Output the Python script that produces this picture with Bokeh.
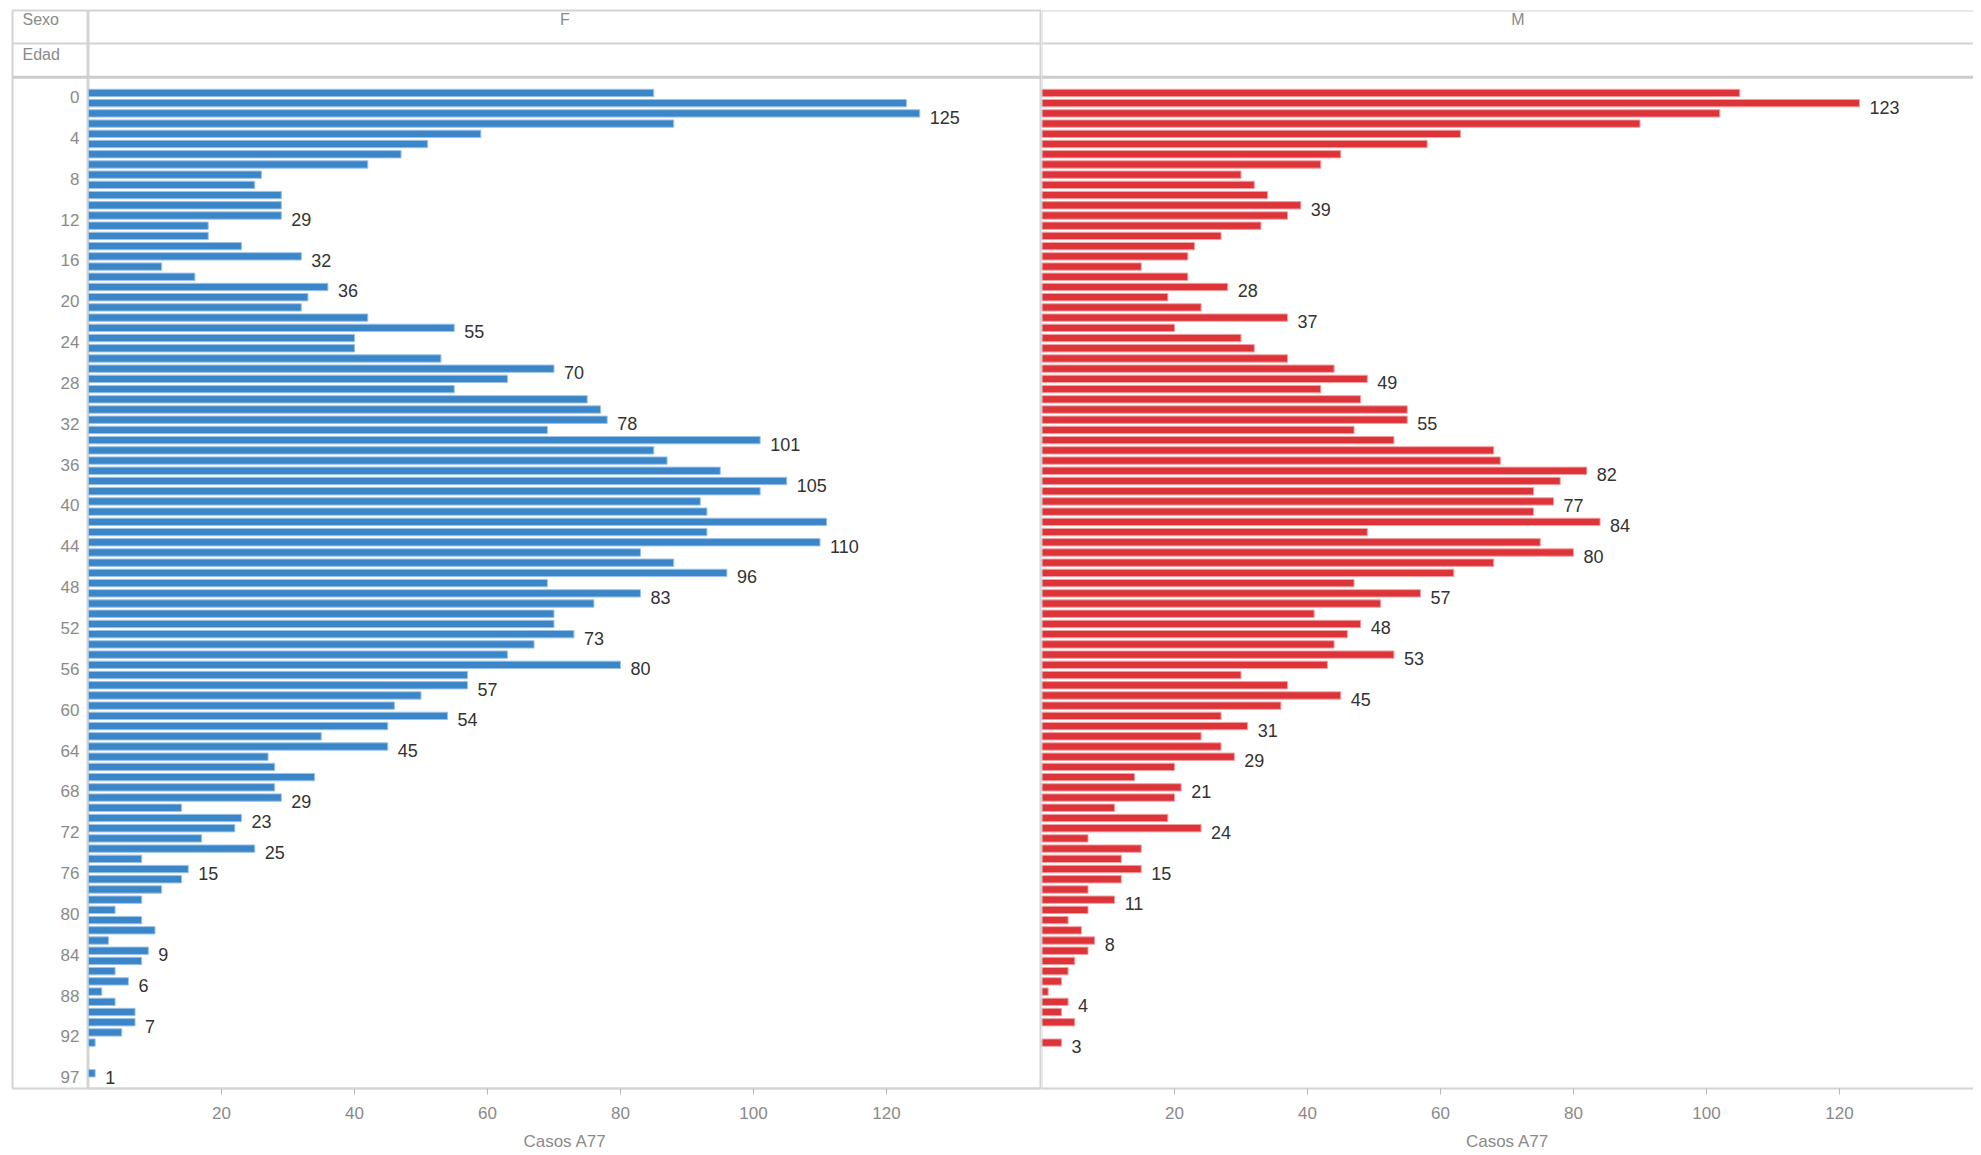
from bokeh.plotting import figure
from bokeh.layouts import row
from bokeh.models import Range1d, Span, FixedTicker, ColumnDataSource
from bokeh.core.properties import value
from bokeh.embed import file_html
from bokeh.resources import INLINE

# ---------------- data ----------------
ages = list(range(0, 96)) + [97]
f_cases = [85, 123, 125, 88, 59, 51, 47, 42, 26, 25,
           29, 29, 29, 18, 18, 23, 32, 11, 16, 36,
           33, 32, 42, 55, 40, 40, 53, 70, 63, 55,
           75, 77, 78, 69, 101, 85, 87, 95, 105, 101,
           92, 93, 111, 93, 110, 83, 88, 96, 69, 83,
           76, 70, 70, 73, 67, 63, 80, 57, 57, 50,
           46, 54, 45, 35, 45, 27, 28, 34, 28, 29,
           14, 23, 22, 17, 25, 8, 15, 14, 11, 8,
           4, 8, 10, 3, 9, 8, 4, 6, 2, 4,
           7, 7, 5, 1, None, None, 1]
m_cases = [105, 123, 102, 90, 63, 58, 45, 42, 30, 32,
           34, 39, 37, 33, 27, 23, 22, 15, 22, 28,
           19, 24, 37, 20, 30, 32, 37, 44, 49, 42,
           48, 55, 55, 47, 53, 68, 69, 82, 78, 74,
           77, 74, 84, 49, 75, 80, 68, 62, 47, 57,
           51, 41, 48, 46, 44, 53, 43, 30, 37, 45,
           36, 27, 31, 24, 27, 29, 20, 14, 21, 20,
           11, 19, 24, 7, 15, 12, 15, 12, 7, 11,
           7, 4, 6, 8, 7, 5, 4, 3, 1, 4,
           3, 5, None, 3, None, None, None]
f_labeled_ages = [2, 12, 16, 19, 23, 27, 32, 34, 38, 44, 47, 49, 53, 56,
                  58, 61, 64, 69, 71, 74, 76, 84, 87, 91, 97]
m_labeled_ages = [1, 11, 19, 22, 28, 32, 37, 40, 42, 45, 49, 52, 55, 59,
                  62, 65, 68, 72, 76, 79, 83, 89, 93]
age_tick_labels = list(range(0, 93, 4)) + [97]
x_ticks = [20, 40, 60, 80, 100, 120]
panels = ["F", "M"]
col_header = "Sexo"
row_header = "Edad"
x_title = "Casos A77"

# ---------------- styling / geometry ----------------
FONT = "Liberation Sans"
GRID = "#d4d4d4"
GREY_TXT = "#8a8a8a"
LBL_TXT = "#333333"
BAR_FILL = {"F": "#3a86c8", "M": "#dc3439"}
BAR_LINE = {"F": "#9cc3e6", "M": "#f2a0a2"}

ROW_PX = 10.24
ROW0_PX = 92.7          # canvas y of first row
FRAME_TOP = 10
FRAME_BOT = 1091
PX_PER_UNIT = 6.65
H_CANVAS = 1153
BORDER_TOP = FRAME_TOP
BORDER_BOT = H_CANVAS - FRAME_BOT
PANEL_W = 953


def to_row(py):
    return (py - ROW0_PX) / ROW_PX


y_range = Range1d(to_row(FRAME_BOT), to_row(FRAME_TOP))
line_sexo = to_row(43)
line_edad = to_row(77)
txt_sexo = to_row(19)
txt_edad = to_row(54)

row_index = {a: i for i, a in enumerate(ages)}


def base_fig(width, x_range, left=0):
    p = figure(width=width, height=H_CANVAS, x_range=x_range, y_range=y_range,
               output_backend="svg", toolbar_location=None,
               min_border_left=left, min_border_right=0,
               min_border_top=BORDER_TOP, min_border_bottom=BORDER_BOT,
               y_axis_location=None, background_fill_color="white",
               border_fill_color="white")
    p.grid.visible = False
    p.add_layout(Span(location=line_sexo, dimension="width", line_color=GRID, line_width=2))
    p.add_layout(Span(location=line_edad, dimension="width", line_color="#cccccc", line_width=3))
    return p


# ---------------- left header column ----------------
hx = Range1d(12, 88)
ph = base_fig(88, hx, left=12)
ph.xaxis.visible = False
ph.outline_line_color = GRID
ph.outline_line_width = 2
tick_rows = [row_index[a] for a in age_tick_labels]
ph.text(x=[79] * len(tick_rows), y=tick_rows, text=[str(a) for a in age_tick_labels],
        text_align="right", text_baseline="middle", y_offset=4,
        text_font=value(FONT), text_font_size="17px", text_color=GREY_TXT)
ph.text(x=[22, 22], y=[txt_sexo, txt_edad], text=[col_header, row_header],
        text_align="left", text_baseline="middle",
        text_font=value(FONT), text_font_size="16px", text_color=GREY_TXT)

# ---------------- panels ----------------
figs = [ph]
widths = {"F": PANEL_W, "M": 932}
series = {"F": (f_cases, f_labeled_ages), "M": (m_cases, m_labeled_ages)}
header_x = PANEL_W / PX_PER_UNIT / 2
for name in panels:
    w = widths[name]
    xr = Range1d(0, w / PX_PER_UNIT)
    p = base_fig(w, xr)
    cases, labeled = series[name]
    rows_ = [row_index[a] for a, c in zip(ages, cases) if c is not None]
    vals = [c for c in cases if c is not None]
    src = ColumnDataSource(dict(y=rows_, right=vals))
    p.hbar(y="y", right="right", left=0, height=0.72, source=src,
           fill_color=BAR_FILL[name], line_color=BAR_LINE[name], line_width=1)
    lab_rows = [row_index[a] for a in labeled]
    lab_vals = [cases[row_index[a]] for a in labeled]
    p.text(x=lab_vals, y=lab_rows, text=[str(v) for v in lab_vals],
           x_offset=10, y_offset=4, text_align="left", text_baseline="middle",
           text_font=value(FONT), text_font_size="18px", text_color=LBL_TXT)
    # panel header
    p.text(x=[header_x], y=[txt_sexo], text=[name], text_align="center",
           text_baseline="middle", text_font=value(FONT), text_font_size="16px",
           text_color=GREY_TXT)
    if name == "F":
        p.outline_line_color = GRID
        p.outline_line_width = 2
    else:
        p.outline_line_color = None
        p.add_layout(Span(location=y_range.end, dimension="width", line_color=GRID, line_width=2))
        p.add_layout(Span(location=0, dimension="height", line_color=GRID, line_width=2))
    ax = p.xaxis[0]
    ax.ticker = FixedTicker(ticks=x_ticks)
    ax.axis_line_color = GRID
    ax.axis_line_width = 2
    ax.major_tick_line_color = "#b8b8b8"
    ax.major_tick_out = 6
    ax.major_tick_in = 0
    ax.minor_tick_line_color = None
    ax.major_label_text_font = FONT
    ax.major_label_text_font_size = "17px"
    ax.major_label_text_color = GREY_TXT
    ax.major_label_standoff = 12
    ax.axis_label = x_title
    ax.axis_label_text_font = FONT
    ax.axis_label_text_font_size = "17px"
    ax.axis_label_text_font_style = "normal"
    ax.axis_label_text_color = GREY_TXT
    ax.axis_label_standoff = 10
    figs.append(p)

layout = row(*figs, spacing=0)
open("out.html", "w").write(file_html(layout, INLINE))
